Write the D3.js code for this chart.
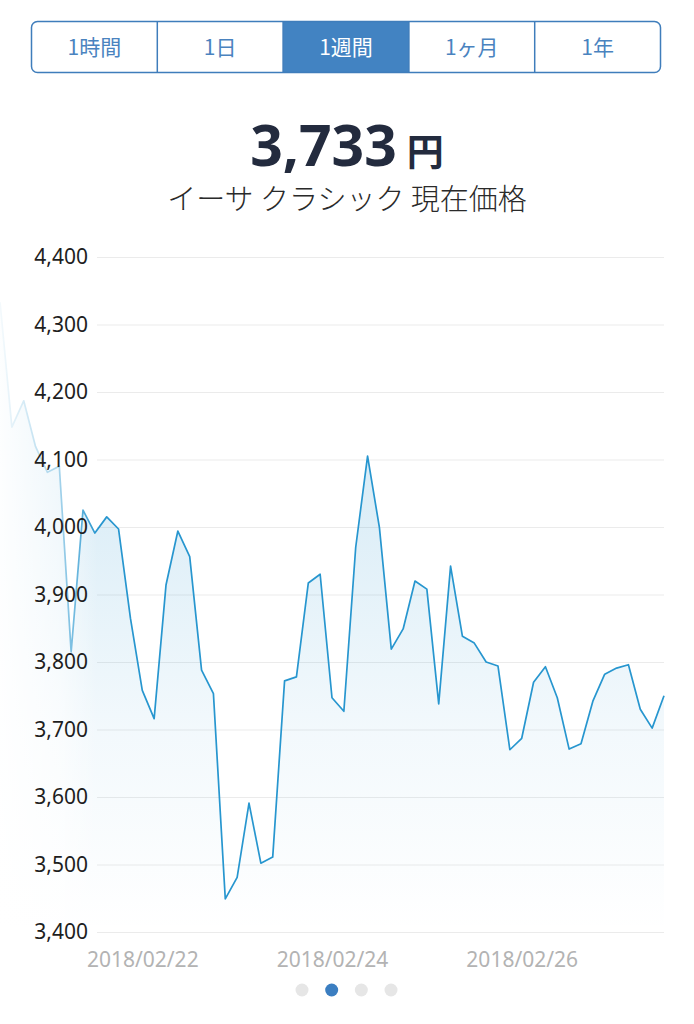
<!DOCTYPE html>
<html>
<head>
<meta charset="utf-8">
<script src="https://cdn.jsdelivr.net/npm/d3@7"></script>
<style>
  html, body { margin: 0; padding: 0; background: #ffffff; }
  svg { display: block; }
</style>
</head>
<body>
<script>
// ---- data ----
const tabLabels = ["1時間", "1日", "1週間", "1ヶ月", "1年"];
const selectedTab = 2;
const currentPrice = "3,733";
const currencyUnit = "円";
const subtitle = "イーサ クラシック 現在価格";
const startTime = "2018-02-20T12:00:00";
const endTime = "2018-02-27T12:00:00";
const stepHours = 3;
const prices = [
  4333, 4148, 4187, 4119, 4081, 4090, 3815, 4025, 3991, 4015,
  3997, 3865, 3758, 3716, 3914, 3994, 3956, 3788, 3753, 3449,
  3481, 3591, 3502, 3511, 3772, 3778, 3917, 3930, 3747, 3727,
  3970, 4105, 3999, 3819, 3849, 3920, 3908, 3738, 3942, 3838,
  3828, 3800, 3794, 3670, 3687, 3770, 3793, 3747, 3671, 3679,
  3742, 3782, 3791, 3796, 3730, 3702, 3750
];
const yTicks = [3400, 3500, 3600, 3700, 3800, 3900, 4000, 4100, 4200, 4300, 4400];
const xTickDates = ["2018-02-22T00:00:00", "2018-02-24T00:00:00", "2018-02-26T00:00:00"];
const pageDots = [0, 1, 2, 3];
const activeDot = 1;

// ---- setup ----
const W = 694, H = 1024;
const svg = d3.select("body").append("svg").attr("width", W).attr("height", H);
const defs = svg.append("defs");

const numFont = "'Noto Sans', 'Liberation Sans', sans-serif";
const jpFont = "'Noto Sans CJK JP', 'Noto Sans', sans-serif";

// ---- tab bar ----
const tabX = 31.5, tabY = 21.5, tabW = 629, tabH = 51;
const tabScale = d3.scaleBand().domain(d3.range(tabLabels.length)).range([tabX, tabX + tabW]);
const tabClip = defs.append("clipPath").attr("id", "tabclip");
tabClip.append("rect").attr("x", tabX).attr("y", tabY).attr("width", tabW).attr("height", tabH).attr("rx", 6);
const tabs = svg.append("g");
tabs.append("g").attr("clip-path", "url(#tabclip)")
  .append("rect")
  .attr("x", tabScale(selectedTab)).attr("y", tabY)
  .attr("width", tabScale.bandwidth()).attr("height", tabH)
  .attr("fill", "#4283c2");
tabs.selectAll("line.div").data(d3.range(1, tabLabels.length)).join("line")
  .attr("x1", d => tabScale(d)).attr("x2", d => tabScale(d))
  .attr("y1", tabY).attr("y2", tabY + tabH)
  .attr("stroke", "#3f7dbb").attr("stroke-width", 1.5);
tabs.append("rect")
  .attr("x", tabX).attr("y", tabY).attr("width", tabW).attr("height", tabH).attr("rx", 6)
  .attr("fill", "none").attr("stroke", "#3f7dbb").attr("stroke-width", 1.5);
tabs.selectAll("text").data(tabLabels).join("text")
  .attr("x", (d, i) => tabScale(i) + tabScale.bandwidth() / 2)
  .attr("y", tabY + tabH / 2)
  .attr("dy", "0.36em")
  .attr("text-anchor", "middle")
  .attr("font-family", jpFont)
  .attr("font-size", 21)
  .attr("fill", (d, i) => i === selectedTab ? "#ffffff" : "#4a83bf")
  .text(d => d);

// ---- title ----
const title = svg.append("text")
  .attr("x", W / 2).attr("y", 166)
  .attr("text-anchor", "middle")
  .attr("fill", "#232b3e");
title.append("tspan").attr("font-family", numFont).attr("font-weight", 700).attr("font-size", 57).text(currentPrice);
title.append("tspan").attr("font-family", jpFont).attr("font-weight", 700).attr("font-size", 37).attr("dx", 10).text(currencyUnit);

svg.append("text")
  .attr("x", W / 2).attr("y", 210)
  .attr("text-anchor", "middle")
  .attr("font-family", jpFont)
  .attr("font-weight", 300)
  .attr("font-size", 29)
  .attr("fill", "#2a2a2a")
  .text(subtitle);

// ---- chart ----
const plotLeft = 97, plotRight = 664, plotTop = 257, plotBottom = 932;
const parse = d3.isoParse;
const t0 = parse(startTime);
const data = prices.map((v, i) => ({ t: new Date(t0.getTime() + i * stepHours * 3600 * 1000), v }));

const x = d3.scaleTime().domain([parse(startTime), parse(endTime)]).range([0, plotRight]);
const y = d3.scaleLinear().domain([yTicks[0], yTicks[yTicks.length - 1]]).range([plotBottom, plotTop]);

// gridlines (y axis without labels)
const yGrid = svg.append("g")
  .attr("transform", `translate(${plotLeft},0)`)
  .call(d3.axisLeft(y).tickValues(yTicks).tickSize(-(plotRight - plotLeft)).tickFormat(""));
yGrid.select(".domain").remove();
yGrid.selectAll(".tick line").attr("stroke", "#ebebeb").attr("stroke-width", 1);

// area fill gradient
const areaGrad = defs.append("linearGradient").attr("id", "areaGrad")
  .attr("gradientUnits", "userSpaceOnUse")
  .attr("x1", 0).attr("x2", 0).attr("y1", y(4150)).attr("y2", plotBottom);
areaGrad.append("stop").attr("offset", 0).attr("stop-color", "#2d97d0").attr("stop-opacity", 0.2);
areaGrad.append("stop").attr("offset", 0.6).attr("stop-color", "#2d97d0").attr("stop-opacity", 0.06);
areaGrad.append("stop").attr("offset", 1).attr("stop-color", "#2d97d0").attr("stop-opacity", 0.0);

const area = d3.area().x(d => x(d.t)).y0(plotBottom).y1(d => y(d.v));
const line = d3.line().x(d => x(d.t)).y(d => y(d.v));

svg.append("path").datum(data).attr("d", area).attr("fill", "url(#areaGrad)");
svg.append("path").datum(data).attr("d", line)
  .attr("fill", "none").attr("stroke", "#2796cf").attr("stroke-width", 1.7)
  .attr("stroke-linejoin", "round");

// left fade overlay
const fadeGrad = defs.append("linearGradient").attr("id", "fadeGrad")
  .attr("x1", 0).attr("x2", 1).attr("y1", 0).attr("y2", 0);
fadeGrad.append("stop").attr("offset", 0).attr("stop-color", "#fff").attr("stop-opacity", 0.95);
fadeGrad.append("stop").attr("offset", 0.6).attr("stop-color", "#fff").attr("stop-opacity", 0.6);
fadeGrad.append("stop").attr("offset", 1).attr("stop-color", "#fff").attr("stop-opacity", 0);
svg.append("rect").attr("x", 0).attr("y", plotTop - 20).attr("width", plotLeft).attr("height", plotBottom - plotTop + 40)
  .attr("fill", "url(#fadeGrad)");

// y axis labels
const yAxis = svg.append("g")
  .attr("transform", `translate(${plotLeft},0)`)
  .call(d3.axisLeft(y).tickValues(yTicks).tickSize(0).tickPadding(9).tickFormat(d3.format(",")));
yAxis.select(".domain").remove();
yAxis.selectAll("text")
  .attr("font-family", numFont).attr("font-size", 21).attr("fill", "#1e1e1e");

// x axis labels
const xAxis = svg.append("g")
  .attr("transform", `translate(0,${plotBottom})`)
  .call(d3.axisBottom(x).tickValues(xTickDates.map(parse)).tickSize(0).tickPadding(20)
    .tickFormat(d3.timeFormat("%Y/%m/%d")));
xAxis.select(".domain").remove();
xAxis.selectAll("text")
  .attr("font-family", numFont).attr("font-size", 21).attr("fill", "#b3b3b3");

// pagination dots
const dotX = d3.scalePoint().domain(pageDots).range([302, 391]);
svg.append("g").selectAll("circle").data(pageDots).join("circle")
  .attr("cx", d => dotX(d)).attr("cy", 990).attr("r", 6.5)
  .attr("fill", d => d === activeDot ? "#3b7ec1" : "#e6e6e6");
</script>
</body>
</html>
